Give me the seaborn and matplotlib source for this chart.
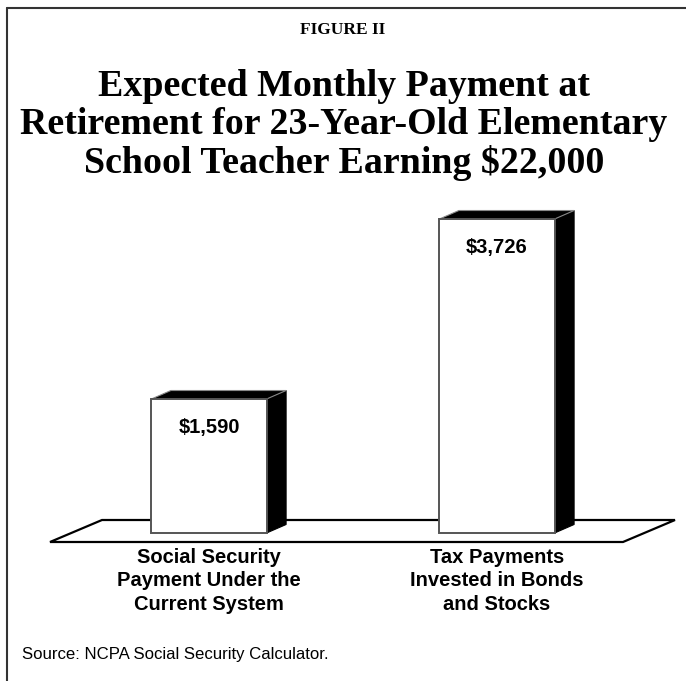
import matplotlib
matplotlib.use("Agg")
import matplotlib.pyplot as plt
import seaborn as sns
import pandas as pd
from matplotlib.patches import Polygon
from matplotlib.lines import Line2D

# ---- data ----
categories = ["Social Security\nPayment Under the\nCurrent System",
              "Tax Payments\nInvested in Bonds\nand Stocks"]
values = [1590, 3726]
value_labels = ["$1,590", "$3,726"]
figure_label = "FIGURE II"
title_lines = ["Expected Monthly Payment at",
               "Retirement for 23-Year-Old Elementary",
               "School Teacher Earning $22,000"]
source_text = "Source: NCPA Social Security Calculator."

W, H = 686, 681
fig = plt.figure(figsize=(W / 100, H / 100), dpi=100)
sns.set_style("white")
plt.rcParams['font.family'] = ['Liberation Sans', 'DejaVu Sans']
plt.rcParams['text.color'] = 'black'

ax = fig.add_axes([0, 0, 1, 1])
df = pd.DataFrame({"cat": categories, "val": values})

# pixel-scale mapping
cx0, cstep = 209.0, 288.0       # px for category 0, px per category
base_px, k = 533.0, 0.08427     # px of y=0, px per unit
def px2x(p):
    return (p - cx0) / cstep
def py2y(p):
    return (base_px - p) / k

ax.set_xlim(px2x(0), px2x(W))
ax.set_ylim(py2y(H), py2y(0))
ax.axis("off")

# floor
floor_px = [(50, 542), (102, 520), (675, 520), (623, 542)]
ax.add_patch(Polygon([(px2x(a), py2y(b)) for a, b in floor_px], closed=True,
                     facecolor="white", edgecolor="black", lw=1.6, zorder=1))

sns.barplot(data=df, x="cat", y="val", ax=ax, width=0.40, color="white",
            edgecolor="#555555", linewidth=1.4, saturation=1, zorder=3)
ax.set_xlim(px2x(0), px2x(W))
ax.set_ylim(py2y(H), py2y(0))
ax.axis("off")

dx = 19.5 / cstep
dy = 8.5 / k
for p, lab in zip(ax.patches[1:], value_labels):
    xl = p.get_x()
    xr = xl + p.get_width()
    h = p.get_height()
    side = [(xr, 0), (xr, h), (xr + dx, h + dy), (xr + dx, dy)]
    top = [(xl, h), (xl + dx, h + dy), (xr + dx, h + dy), (xr, h)]
    ax.add_patch(Polygon(side, closed=True, facecolor="black", edgecolor="black", lw=0.8, zorder=2.5))
    ax.add_patch(Polygon(top, closed=True, facecolor="black", edgecolor="#888888", lw=0.8, zorder=2.5))
    ax.text(xl + p.get_width() / 2, h - 340, lab, ha="center", va="center",
            fontsize=14.5, fontweight="bold", color="black", zorder=5)

for i, c in enumerate(categories):
    ax.text(i, py2y(548), c, ha="center", va="top", fontsize=14.5,
            fontweight="bold", linespacing=1.3, color="black", zorder=5)

fig.text(343 / W, 1 - 30 / H, figure_label, ha="center", va="center",
         fontsize=12.5, fontweight="bold", family=["Liberation Serif", "DejaVu Serif"])
for yy, t in zip([87, 125, 163], title_lines):
    fig.text(344 / W, 1 - yy / H, t, ha="center", va="center",
             fontsize=27.3, fontweight="bold", family=["Liberation Serif", "DejaVu Serif"])
fig.text(22 / W, 1 - 655 / H, source_text, ha="left", va="center", fontsize=12.1)

# frame lines
fig.add_artist(Line2D([7 / W, 1], [1 - 8 / H, 1 - 8 / H], color="#333333", lw=1.5))
fig.add_artist(Line2D([7 / W, 7 / W], [1 - 8 / H, 0], color="#333333", lw=1.5))

fig.savefig("out.png", dpi=100)
